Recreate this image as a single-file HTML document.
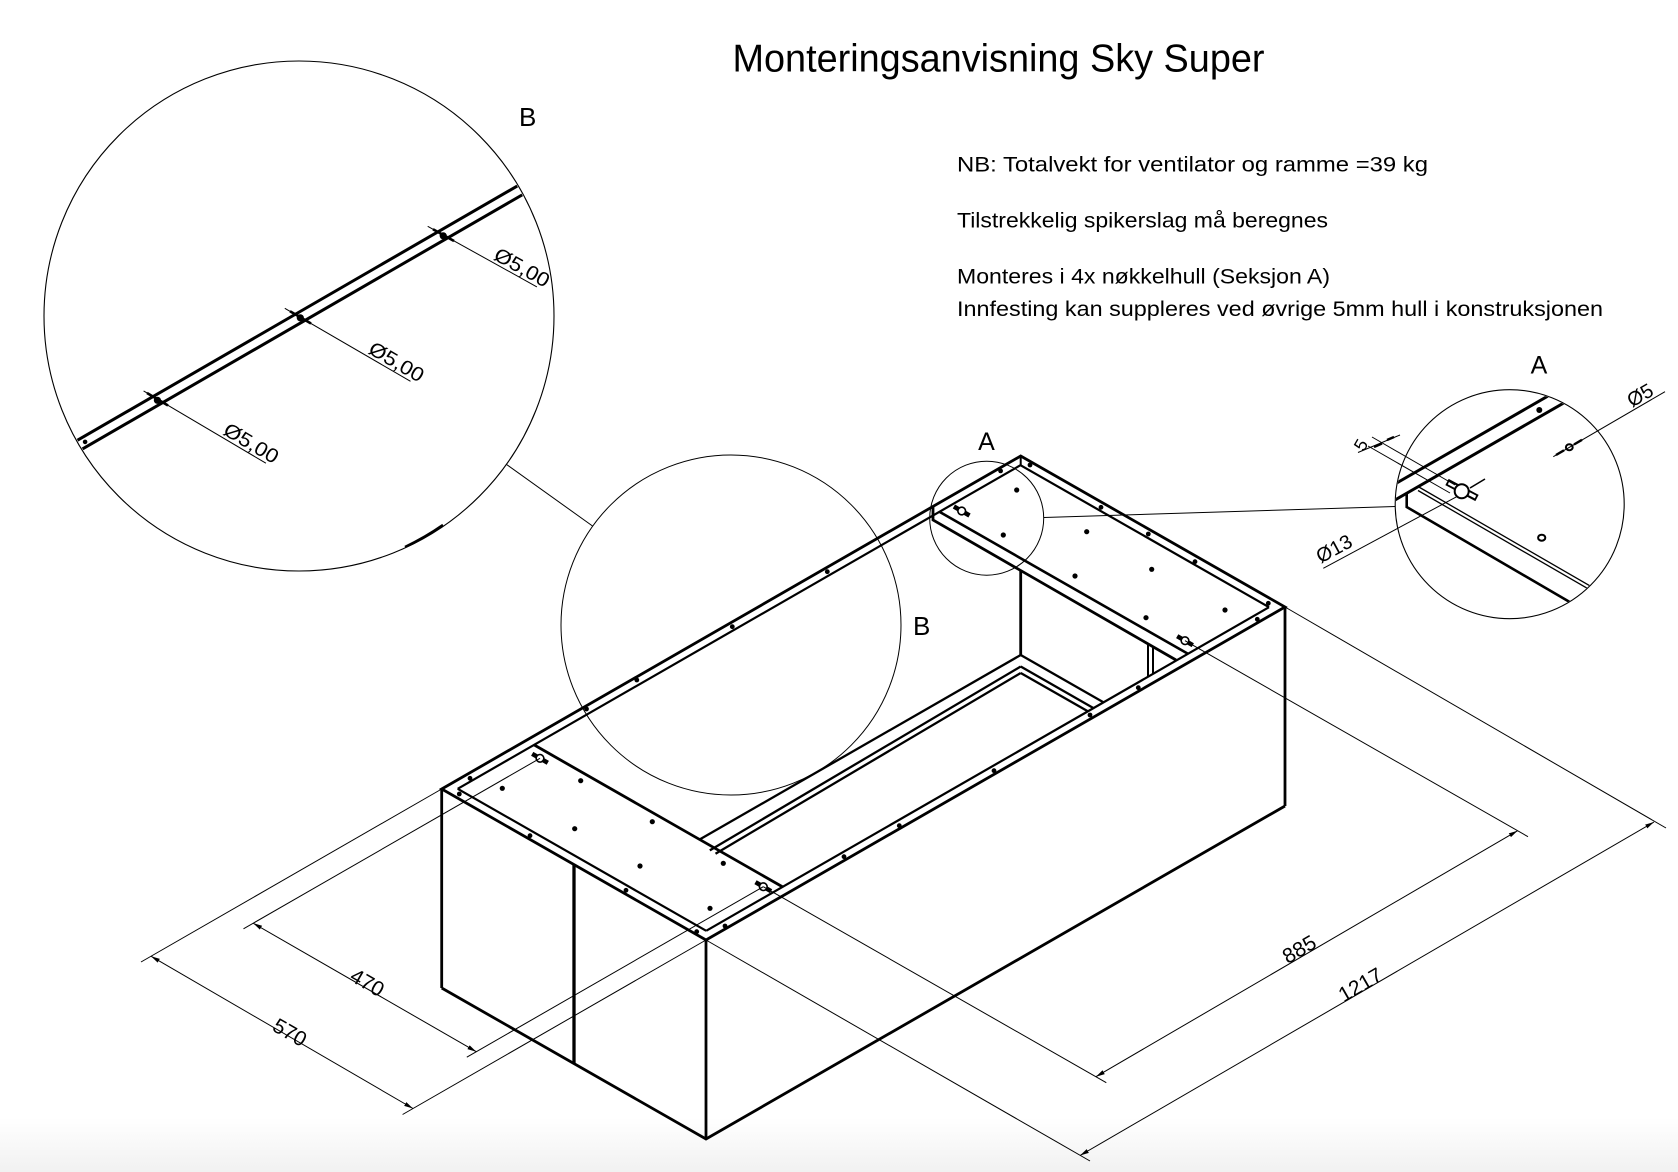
<!DOCTYPE html>
<html>
<head>
<meta charset="utf-8">
<style>
  html,body{margin:0;padding:0;background:#fff;}
  svg{display:block;}
  text{font-family:"Liberation Sans", "DejaVu Sans", sans-serif; fill:#000;}
</style>
</head>
<body>
<svg width="1678" height="1172" viewBox="0 0 1678 1172" xmlns="http://www.w3.org/2000/svg">
  <defs>
    <linearGradient id="g" x1="0" y1="0" x2="0" y2="1">
      <stop offset="0" stop-color="#ffffff"/>
      <stop offset="1" stop-color="#f1f1f1"/>
    </linearGradient>
    <marker id="ar" markerWidth="10" markerHeight="6" refX="9" refY="3" orient="auto-start-reverse" markerUnits="userSpaceOnUse">
      <path d="M0,0.8 L9,3 L0,5.2 z" fill="#000"/>
    </marker>
    <clipPath id="cb"><circle cx="299" cy="316" r="254"/></clipPath>
    <clipPath id="ca"><circle cx="1509.7" cy="504.2" r="113.8"/></clipPath>
  </defs>

  <rect width="1678" height="1172" fill="#fff"/>
  <rect y="1118" width="1678" height="54" fill="url(#g)"/>

  <!-- Title & notes -->
  <text x="732.5" y="71.7" font-size="39" textLength="532" lengthAdjust="spacingAndGlyphs">Monteringsanvisning Sky Super</text>
  <text x="957" y="171.5" font-size="21" textLength="471" lengthAdjust="spacingAndGlyphs">NB: Totalvekt for ventilator og ramme =39 kg</text>
  <text x="957" y="227.3" font-size="21" textLength="371" lengthAdjust="spacingAndGlyphs">Tilstrekkelig spikerslag må beregnes</text>
  <text x="957" y="283.5" font-size="21" textLength="373" lengthAdjust="spacingAndGlyphs">Monteres i 4x nøkkelhull (Seksjon A)</text>
  <text x="957" y="316" font-size="21" textLength="646" lengthAdjust="spacingAndGlyphs">Innfesting kan suppleres ved øvrige 5mm hull i konstruksjonen</text>

  <!-- ===== Detail B (big circle) ===== -->
  <circle cx="299" cy="316" r="255" fill="none" stroke="#000" stroke-width="1.1"/>
  <path d="M405,547 A255,255 0 0 0 443,525" fill="none" stroke="#000" stroke-width="2.6"/>
  <g clip-path="url(#cb)" stroke="#000" fill="none">
    <line x1="40" y1="461.9" x2="560" y2="161.3" stroke-width="3"/>
    <line x1="40" y1="473.5" x2="560" y2="173" stroke-width="3"/>
  </g>
  <circle cx="85.1" cy="441.9" r="2.3" fill="#000"/>
  <g stroke="#000" stroke-width="1">
    <line x1="143.6" y1="390.9" x2="265.9" y2="463.2"/>
    <line x1="284.8" y1="308.3" x2="410.5" y2="381.3"/>
    <line x1="427.7" y1="226.3" x2="536.9" y2="286.9"/>
  </g>
  <g stroke="#000" stroke-width="2.6">
    <line x1="147" y1="393" x2="168" y2="405.5"/>
    <line x1="290" y1="311.3" x2="311" y2="323.5"/>
    <line x1="433" y1="229.3" x2="454" y2="241"/>
  </g>
  <g fill="#000">
    <circle cx="157.4" cy="400.3" r="3.6"/>
    <circle cx="300.3" cy="317.8" r="3.6"/>
    <circle cx="443.2" cy="235.8" r="3.6"/>
  </g>
  <text transform="translate(246.3,451.6) rotate(30.6)" y="-3" font-size="20" text-anchor="middle" textLength="60" lengthAdjust="spacingAndGlyphs">Ø5,00</text>
  <text transform="translate(391.6,370.3) rotate(30.2)" y="-3" font-size="20" text-anchor="middle" textLength="60" lengthAdjust="spacingAndGlyphs">Ø5,00</text>
  <text transform="translate(517.3,276) rotate(29)" y="-3" font-size="20" text-anchor="middle" textLength="60" lengthAdjust="spacingAndGlyphs">Ø5,00</text>
  <text x="519" y="125.8" font-size="26">B</text>

  <!-- connector B -->
  <line x1="506.4" y1="464.4" x2="592.7" y2="526.1" stroke="#000" stroke-width="1"/>

  <!-- ===== Main box ===== -->
  <g stroke="#000" fill="none" stroke-linejoin="miter">
    <!-- outer rim -->
    <polygon points="441.7,789 1020.7,456 1285,607 706,940" stroke-width="2.8"/>
    <!-- flange inner lines -->
    <line x1="457.7" y1="788.8" x2="1020.5" y2="465.2" stroke-width="2.2"/>
    <line x1="706.2" y1="930.8" x2="1269" y2="607.2" stroke-width="2.2"/>
    <line x1="457.7" y1="788.8" x2="706.2" y2="930.8" stroke-width="2.2"/>
    <line x1="1020.5" y1="465.2" x2="1269" y2="607.2" stroke-width="2.2"/>
    <line x1="1020.7" y1="456" x2="1020.7" y2="465" stroke-width="2"/>
    <!-- left panel edge -->
    <line x1="534.1" y1="744.9" x2="782.6" y2="886.9" stroke-width="2.8"/>
    <!-- right panel edge with lip -->
    <line x1="939.4" y1="511.8" x2="1187.9" y2="653.8" stroke-width="2.6"/>
    <polyline points="933,507 933,520 1176,660" stroke-width="2.8"/>
    <!-- back vertical -->
    <line x1="1020.7" y1="570.5" x2="1020.7" y2="655" stroke-width="2.8"/>
    <!-- bottom rails -->
    <line x1="1020.7" y1="655" x2="699.6" y2="839.5" stroke-width="2.3"/>
    <line x1="1020.7" y1="666.5" x2="709.8" y2="850.4" stroke-width="2.3"/>
    <line x1="1020.7" y1="673" x2="715.5" y2="853.7" stroke-width="2.3"/>
    <line x1="1020.7" y1="655" x2="1103.6" y2="702.4" stroke-width="2.3"/>
    <line x1="1020.7" y1="666.5" x2="1093.5" y2="708.1" stroke-width="2.3"/>
    <line x1="1020.7" y1="673" x2="1087.8" y2="711.3" stroke-width="2.3"/>
    <!-- front right inner verticals -->
    <line x1="1148" y1="645" x2="1148" y2="676.5" stroke-width="2"/>
    <line x1="1153" y1="647.5" x2="1153" y2="673.6" stroke-width="2"/>
    <!-- faces -->
    <line x1="441.7" y1="789" x2="441.7" y2="988" stroke-width="2.8"/>
    <line x1="574" y1="864.6" x2="574" y2="1063.6" stroke-width="3.3"/>
    <line x1="706" y1="940" x2="706" y2="1139" stroke-width="2.8"/>
    <line x1="1285" y1="607" x2="1285" y2="806" stroke-width="2.8"/>
    <polyline points="441.7,988 706,1139 1285,806" stroke-width="2.8"/>
  </g>

  <!-- holes -->
  <g fill="#000">
    <circle cx="470" cy="778.3" r="2.4"/><circle cx="459.3" cy="794" r="2.4"/>
    <circle cx="502.3" cy="788.3" r="2.6"/><circle cx="580.7" cy="780.7" r="2.6"/>
    <circle cx="574.7" cy="828.7" r="2.6"/><circle cx="652.3" cy="821.7" r="2.6"/>
    <circle cx="640" cy="866" r="2.6"/><circle cx="723.3" cy="863.3" r="2.6"/>
    <circle cx="710" cy="908.3" r="2.6"/><circle cx="530" cy="835.7" r="2.4"/>
    <circle cx="626" cy="890.3" r="2.4"/><circle cx="696.7" cy="931.7" r="2.4"/>
    <circle cx="725" cy="926" r="2.4"/>
    <circle cx="586.5" cy="709" r="2.4"/><circle cx="636.8" cy="680" r="2.4"/>
    <circle cx="732.3" cy="626.7" r="2.4"/><circle cx="827.3" cy="571.7" r="2.4"/>
    <circle cx="1000.6" cy="470.9" r="2.4"/>
    <circle cx="1030" cy="465" r="2.4"/><circle cx="1016.7" cy="490" r="2.6"/>
    <circle cx="1003.3" cy="535" r="2.6"/><circle cx="1086.7" cy="531.7" r="2.6"/>
    <circle cx="1101" cy="507.3" r="2.4"/><circle cx="1148.3" cy="534" r="2.4"/>
    <circle cx="1075" cy="576" r="2.6"/><circle cx="1151.7" cy="569.3" r="2.6"/>
    <circle cx="1195" cy="561.7" r="2.4"/><circle cx="1225" cy="610" r="2.6"/>
    <circle cx="1146" cy="617.7" r="2.6"/><circle cx="1268.3" cy="603.3" r="2.4"/>
    <circle cx="1257.3" cy="619.3" r="2.4"/><circle cx="1138.3" cy="687.7" r="2.4"/>
    <circle cx="844" cy="856.7" r="2.4"/><circle cx="899.3" cy="825.7" r="2.4"/>
    <circle cx="994" cy="770.7" r="2.4"/><circle cx="1090" cy="715" r="2.4"/>
  </g>
  <!-- keyholes -->
  <g stroke="#000">
    <g transform="translate(540,758.3) rotate(30)"><line x1="-9" y1="0" x2="9" y2="0" stroke-width="4.5"/><circle r="3.8" fill="#fff" stroke-width="1.6"/></g>
    <g transform="translate(763.3,886.7) rotate(30)"><line x1="-9" y1="0" x2="9" y2="0" stroke-width="4.5"/><circle r="3.8" fill="#fff" stroke-width="1.6"/></g>
    <g transform="translate(961.7,511) rotate(30)"><line x1="-9" y1="0" x2="9" y2="0" stroke-width="4.5"/><circle r="3.8" fill="#fff" stroke-width="1.6"/></g>
    <g transform="translate(1185,640.7) rotate(30)"><line x1="-9" y1="0" x2="9" y2="0" stroke-width="4.5"/><circle r="3.8" fill="#fff" stroke-width="1.6"/></g>
  </g>

  <!-- small detail circles on model -->
  <circle cx="731" cy="625" r="170" fill="none" stroke="#000" stroke-width="1"/>
  <circle cx="986.7" cy="518.2" r="57" fill="none" stroke="#000" stroke-width="1"/>
  <text x="913" y="635" font-size="26">B</text>
  <text x="986.5" y="450" font-size="25" text-anchor="middle">A</text>

  <!-- connector A -->
  <line x1="1044" y1="517.5" x2="1395.3" y2="506.5" stroke="#000" stroke-width="1"/>

  <!-- ===== Dimensions ===== -->
  <g stroke="#000" stroke-width="1" fill="none">
    <line x1="441.7" y1="789" x2="141" y2="962"/>
    <line x1="706" y1="940" x2="402.6" y2="1114.5"/>
    <line x1="151" y1="956.2" x2="413" y2="1108.5" marker-start="url(#ar)" marker-end="url(#ar)"/>

    <line x1="540" y1="758.3" x2="243.5" y2="928.8"/>
    <line x1="763.3" y1="886.7" x2="466.8" y2="1057.2"/>
    <line x1="253.2" y1="923.2" x2="476.3" y2="1051.7" marker-start="url(#ar)" marker-end="url(#ar)"/>

    <line x1="763.3" y1="886.7" x2="1106.3" y2="1082.7"/>
    <line x1="1185" y1="640.7" x2="1528" y2="836.7"/>
    <line x1="1095.9" y1="1076.7" x2="1517.6" y2="830.7" marker-start="url(#ar)" marker-end="url(#ar)"/>

    <line x1="706" y1="940" x2="1090" y2="1161"/>
    <line x1="1285" y1="607" x2="1666" y2="828"/>
    <line x1="1080" y1="1155.5" x2="1654" y2="822" marker-start="url(#ar)" marker-end="url(#ar)"/>
  </g>
  <text transform="translate(289.8,1032.5) rotate(29.8)" y="7" font-size="21" text-anchor="middle">570</text>
  <text transform="translate(367.3,982.6) rotate(29.8)" y="7" font-size="21" text-anchor="middle">470</text>
  <text transform="translate(1299.3,949.4) rotate(-30)" y="7" font-size="21" text-anchor="middle">885</text>
  <text transform="translate(1360.4,984.9) rotate(-30)" y="7" font-size="21" text-anchor="middle">1217</text>

  <!-- ===== Detail A (big circle) ===== -->
  <circle cx="1509.7" cy="504.2" r="114.5" fill="none" stroke="#000" stroke-width="1.1"/>
  <g clip-path="url(#ca)" stroke="#000" fill="none">
    <line x1="1380" y1="492.6" x2="1640" y2="343.1" stroke-width="3"/>
    <line x1="1380" y1="508.6" x2="1640" y2="359.1" stroke-width="3"/>
    <polyline points="1406.7,494 1406.7,507 1640,643" stroke-width="2.6"/>
    <line x1="1418" y1="486.5" x2="1640" y2="614.8" stroke-width="1.3"/>
    <line x1="1418" y1="490.5" x2="1640" y2="618.8" stroke-width="1.3"/>
  </g>
  <!-- keyhole in detail A -->
  <g stroke="#000">
    <line x1="1447" y1="482" x2="1477" y2="498" stroke-width="7"/>
    <line x1="1448.5" y1="483" x2="1475.5" y2="497" stroke-width="3" stroke="#fff"/>
    <circle cx="1461.7" cy="491.2" r="7" fill="#fff" stroke-width="2"/>
  </g>
  <circle cx="1539.3" cy="410" r="3" fill="#000"/>
  <ellipse cx="1541.7" cy="537.7" rx="3.6" ry="3" fill="none" stroke="#000" stroke-width="2"/>
  <ellipse cx="1569.3" cy="447.3" rx="3.4" ry="3" fill="none" stroke="#000" stroke-width="2"/>
  <g stroke="#000" stroke-width="1" fill="none">
    <line x1="1372" y1="437" x2="1455" y2="485"/>
    <line x1="1368" y1="446" x2="1450" y2="493"/>
    <line x1="1358" y1="452.5" x2="1400" y2="435"/>
    <line x1="1323.3" y1="568.3" x2="1456.7" y2="496.7"/>
    <line x1="1553.3" y1="456.7" x2="1665" y2="391.7"/>
    <line x1="1470" y1="488" x2="1485" y2="479" stroke-width="1.6"/>
  </g>
  <g stroke="#000" stroke-width="2.4">
    <line x1="1374" y1="447" x2="1382" y2="443.5"/>
    <line x1="1387" y1="440" x2="1394" y2="437"/>
    <line x1="1556" y1="455" x2="1564" y2="450.3"/>
    <line x1="1574" y1="444.5" x2="1582" y2="439.8"/>
  </g>
  <text transform="translate(1361,445) rotate(-60)" y="6" font-size="18" text-anchor="middle">5</text>
  <text transform="translate(1334,548.5) rotate(-28.5)" y="7" font-size="20" text-anchor="middle">Ø13</text>
  <text transform="translate(1640,395) rotate(-30)" y="7" font-size="20" text-anchor="middle">Ø5</text>
  <text x="1539" y="373.3" font-size="25" text-anchor="middle">A</text>
</svg>
</body>
</html>
